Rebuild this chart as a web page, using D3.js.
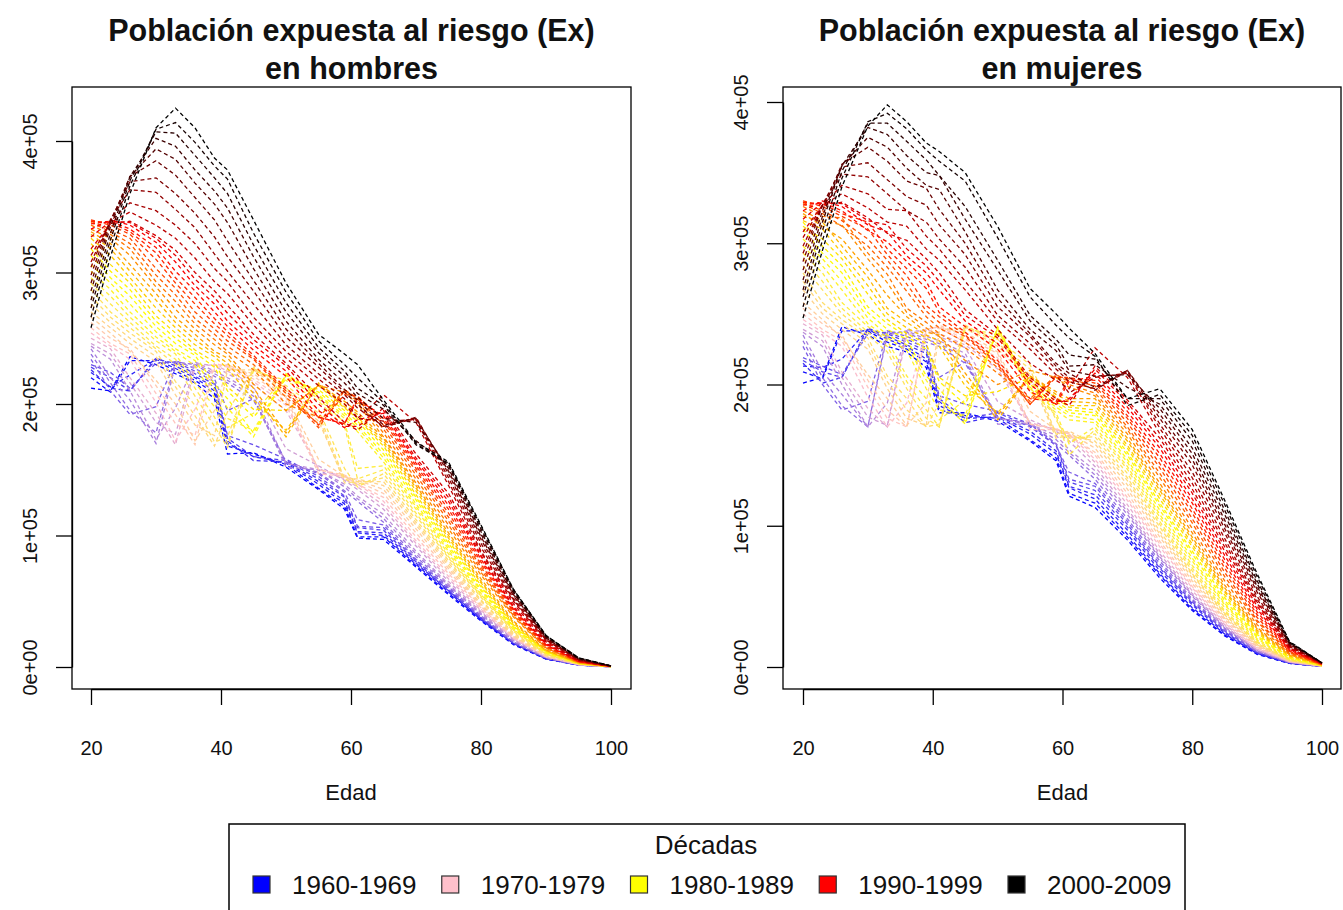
<!DOCTYPE html>
<html><head><meta charset="utf-8">
<script src="https://cdn.jsdelivr.net/npm/d3@7"></script>
<style>
body{margin:0;background:#fff;}
svg{display:block;font-family:"Liberation Sans",Arial,Helvetica,sans-serif;}
</style>
</head><body>
<svg id="chart" width="1343" height="910"></svg>
<script>
// Edades (eje x)
const ages = [20,23,26,30,33,36,39,41,45,50,55,59,61,65,70,75,80,85,90,95,100];
// Años (una curva por año)
const years = [1960,1961,1962,1963,1964,1965,1966,1967,1968,1969,
               1970,1971,1972,1973,1974,1975,1976,1977,1978,1979,
               1980,1981,1982,1983,1984,1985,1986,1987,1988,1989,
               1990,1991,1992,1993,1994,1995,1996,1997,1998,1999,
               2000,2001,2002,2003,2004,2005,2006,2007,2008,2009];
// Población expuesta (miles) – hombres, una fila por año
const hombres = [
[212,210,236,230,223,216,204,162,163,152,135,120,98,97,76,55,35,17,6,1.5,0.2],
[220,209,233,233,225,218,208,168,162,154,136,122,99,99,77,56,36,17.5,6.2,1.5,0.2],
[224,213,222,234,227,220,210,170,160,155,139,124,102,100,78,57,36,18,6.3,1.5,0.2],
[226,212,210,235,229,221,213,172,157,156,141,126,103,102,79,58,37,18,6.4,1.6,0.2],
[228,220,210,234,231,223,215,174,160,157,143,129,106,104,80,58,37,18,6.5,1.6,0.2],
[230,224,212,231,232,225,217,176,169,158,145,130,107,106,81,59,38,18.5,6.6,1.6,0.2],
[234,210,192,198,233,227,219,195,204,156,147,133,112,108,82,60,38,19,6.7,1.6,0.2],
[238,216,195,178,232,230,221,216,203,155,148,134,126,110,84,61,39,19,6.8,1.7,0.2],
[242,220,203,170,230,231,223,218,206,152,150,137,128,113,86,62,40,20,7,1.7,0.2],
[244,234,210,173,197,232,225,220,209,155,150,139,130,116,88,63,41,20.5,7.2,1.7,0.2],
[246,238,216,186,177,231,229,223,213,166,153,142,135,120,92,65,42,21,7.5,1.8,0.2],
[250,242,220,193,169,228,230,225,215,195,151,143,137,123,94,67,43,21.5,7.7,1.8,0.2],
[254,244,234,201,172,196,231,228,217,199,150,145,139,126,96,69,44,22,7.9,1.9,0.2],
[258,246,238,208,185,176,230,229,219,202,147,145,139,129,99,71,45,22.5,8.1,1.9,0.2],
[262,250,242,214,192,169,227,230,221,205,150,146,141,132,102,73,46,23,8.3,2,0.2],
[266,254,240,218,200,172,195,228,223,206,158,145,142,135,105,75,47,23.5,8.5,2,0.2],
[270,258,246,232,207,184,176,226,226,208,187,143,143,138,108,77,48,24,8.7,2.1,0.2],
[276,262,250,236,213,191,168,194,227,210,190,140,141,141,110,79,50,25,9,2.2,0.3],
[282,266,254,240,217,199,171,175,228,212,193,143,139,144,112,81,51,26,9.3,2.3,0.3],
[287,270,258,242,230,206,183,167,227,214,196,151,137,147,115,83,53,27,9.6,2.4,0.3],
[292,276,262,244,234,212,190,170,225,218,202,183,143,150,117,84,54,28,10,2.5,0.3],
[296,282,266,248,238,216,198,182,193,221,204,186,151,153,120,86,55,28.5,10.3,2.5,0.3],
[301,287,270,251,240,229,205,189,180,222,206,189,179,156,122,88,56,29,10.6,2.6,0.3],
[306,292,276,255,242,233,211,197,175,223,207,191,182,159,124,90,58,30,11,2.7,0.3],
[313,296,282,259,246,237,215,204,178,222,209,193,184,162,127,92,59,30.5,11.3,2.8,0.3],
[318,301,287,263,250,239,228,210,190,219,211,195,187,165,129,94,61,31,11.6,2.9,0.3],
[322,306,292,267,254,241,232,213,196,195,214,197,189,168,131,96,62,32,12,3,0.3],
[326,313,296,273,258,245,236,227,203,180,215,198,190,170,134,98,64,33,12.3,3,0.3],
[329,318,301,279,262,249,238,231,208,175,216,200,192,172,136,100,65,34,12.6,3.1,0.35],
[331,322,306,284,266,253,240,235,212,178,215,202,194,174,138,102,67,35,13,3.2,0.35],
[333,326,313,289,272,257,245,238,215,195,214,209,200,175,140,105,70,38,14,3.5,0.4],
[336,329,318,293,278,261,249,240,226,200,190,210,202,178,143,108,72,39,14.5,3.6,0.4],
[338,331,322,298,283,265,253,244,230,205,185,211,204,181,146,111,74,40,15,3.8,0.4],
[339,333,326,303,288,270,257,248,234,208,182,210,205,184,149,114,76,41,15.5,3.9,0.45],
[340,336,329,310,292,276,261,252,235,210,184,207,206,187,151,117,78,42,16,4,0.45],
[339,338,331,315,296,281,265,255,237,212,190,185,205,189,153,120,80,43,16.5,4.1,0.5],
[337,339,333,319,301,286,270,259,241,221,190,185,203,191,155,123,82,44,17,4.2,0.5],
[333,340,336,323,308,290,276,263,245,225,195,182,188,193,157,126,84,45,17.5,4.3,0.5],
[327,339,338,326,313,295,281,269,249,229,200,183,183,195,159,129,85,46,18,4.5,0.55],
[318,337,339,328,317,300,286,275,253,231,205,186,180,197,162,132,87,48,19,4.7,0.55],
[313,338,346,336,326,311,293,284,260,235,214,200,189,207,186,138,88,50,20,5,0.6],
[308,339,353,347,336,322,303,293,266,240,219,204,189,187,188,141,91,51,20.5,5.2,0.6],
[304,340,363,361,348,334,314,301,276,245,223,207,197,183,189,144,94,52,21,5.5,0.6],
[298,340,369,372,360,345,327,312,286,251,228,209,200,182,190,147,97,54,21.5,5.8,0.7],
[292,338,373,385,374,357,340,324,294,257,231,211,203,184,189,149,99,55,22,6,0.7],
[286,335,373,394,386,368,352,338,303,263,234,216,205,189,186,151,101,56,22.5,6.2,0.7],
[279,330,373,402,396,378,362,349,312,270,239,221,208,196,172,153,103,57,23,6.5,0.75],
[273,325,370,407,406,389,372,360,321,277,243,225,212,199,170,154,105,58,23.5,6.7,0.8],
[266,319,366,409,414,399,381,371,330,285,248,230,220,201,169,155,107,59,24,7,0.8],
[258,312,360,410,425,410,387,378,340,292,253,238,230,203,171,156,108,59,24,7,0.8]
];
// Población expuesta (miles) – mujeres, una fila por año
const mujeres = [
[201,205,241,235,227,223,212,180,180,174,160,146,121,113,90,63,40,22,9,2.5,0.4],
[209,204,238,238,230,225,216,182,178,176,161,148,123,116,92,65,41,22.7,9.3,2.6,0.42],
[213,212,218,239,232,227,218,185,176,177,165,151,127,119,94,66,42,23.4,9.6,2.7,0.44],
[215,201,205,240,234,228,222,188,173,178,167,153,128,122,97,68,44,24,9.9,2.8,0.46],
[217,209,205,239,236,230,224,190,176,180,170,157,131,125,99,70,45,24.8,10.2,2.9,0.48],
[219,213,207,236,237,232,226,192,186,181,172,158,133,128,101,71,46,25.5,10.5,3,0.5],
[227,200,182,188,238,234,228,205,216,177,171,157,138,130,103,73,47,26,10.8,3.1,0.52],
[231,205,185,170,237,237,230,227,215,176,173,158,150,133,105,75,48,27,11.1,3.2,0.54],
[235,209,193,170,235,238,232,229,219,172,172,161,152,136,108,77,50,27.6,11.4,3.3,0.56],
[237,227,200,170,187,239,234,231,222,176,172,164,154,139,110,78,51,28.3,11.7,3.4,0.58],
[239,231,205,177,171,238,238,234,226,188,175,167,160,142,112,80,52,29,12,3.5,0.6],
[243,235,209,183,170,235,239,236,228,211,173,168,163,145,115,82,54,30,12.6,3.7,0.63],
[246,237,227,191,170,187,240,240,230,215,172,168,165,147,118,85,56,31,13.2,3.8,0.66],
[250,239,231,198,176,170,239,241,232,219,168,168,165,150,120,87,57,32,13.8,4,0.69],
[254,243,235,203,182,170,236,242,234,222,172,169,164,152,123,89,59,33.5,14.4,4.1,0.72],
[258,246,233,207,190,171,187,240,237,223,181,168,166,155,126,92,61,34.5,15,4.3,0.75],
[267,250,239,225,197,176,171,238,240,225,204,165,167,158,129,94,63,35.5,15.6,4.4,0.78],
[273,254,243,229,202,182,170,187,241,227,207,162,164,160,132,96,65,37,16.2,4.6,0.81],
[279,258,246,233,206,190,170,172,242,229,211,165,162,163,134,99,66,38,16.8,4.7,0.84],
[284,267,250,235,223,197,176,170,241,232,214,175,160,165,137,101,68,39,17.4,4.9,0.87],
[289,273,254,237,227,202,182,170,239,236,196,178,150,168,140,103,70,40,18,5,0.9],
[293,279,258,241,231,206,190,175,189,239,195,180,158,170,142,106,72,42,19,5.4,0.96],
[298,284,267,243,233,224,197,182,178,240,197,182,175,173,145,108,75,44,20,5.8,1.0],
[303,289,273,247,235,228,203,190,172,241,198,184,178,175,147,111,77,45,21,6.2,1.1],
[310,293,279,251,239,232,206,197,174,240,200,186,180,178,150,114,80,47,22,6.6,1.15],
[315,298,284,255,243,234,225,202,186,237,202,188,182,180,152,116,82,49,23,7,1.2],
[312,303,289,264,246,236,229,205,192,195,205,190,184,182,155,119,85,51,24,7.4,1.25],
[316,310,293,270,250,240,233,227,199,180,206,191,185,185,157,122,87,53,25,7.8,1.3],
[319,315,298,276,254,244,235,231,204,175,206,193,188,187,160,125,90,54,26,8.2,1.4],
[321,312,303,281,263,248,237,235,208,178,206,195,190,190,162,127,92,56,27,8.6,1.45],
[323,316,313,289,272,251,240,234,217,200,210,205,198,192,165,130,95,58,28,9,1.5],
[326,319,318,293,278,254,244,236,226,208,190,206,200,194,168,134,98,61,30,9.5,1.6],
[328,321,312,298,283,266,248,240,230,212,188,207,202,197,170,137,102,64,32,10,1.7],
[329,323,316,303,288,271,252,244,234,214,186,206,204,199,173,141,105,67,33,10.5,1.8],
[330,326,319,310,292,277,256,248,235,215,186,205,205,201,176,144,109,70,35,11,1.9],
[329,328,321,315,296,282,268,251,237,217,190,188,204,203,178,148,112,73,37,11.5,2.0],
[327,329,323,309,301,287,273,255,241,225,195,186,202,206,181,151,116,76,39,12,2.1],
[323,330,326,313,308,291,279,267,245,229,200,186,190,208,184,155,119,79,41,12.5,2.2],
[317,329,328,316,313,296,284,273,249,233,203,188,188,211,187,158,123,82,43,13,2.3],
[308,327,329,318,307,302,289,279,253,235,205,190,185,213,189,162,126,85,45,13.5,2.4],
[304,327,335,325,315,312,296,288,267,239,215,203,197,226,205,165,130,88,46,14,2.5],
[298,327,341,335,324,323,305,296,273,245,225,207,194,205,208,169,134,91,48,14.5,2.55],
[293,327,349,347,335,323,315,303,283,249,229,211,202,197,209,172,138,95,50,15,2.6],
[287,327,354,357,345,333,327,313,292,255,234,213,205,196,210,176,143,98,53,15.5,2.65],
[281,323,356,368,358,344,339,324,300,261,236,215,208,198,210,179,147,101,55,16,2.7],
[274,319,355,375,368,353,341,338,308,267,239,224,210,206,207,183,151,104,57,16.5,2.75],
[267,315,355,382,377,362,350,348,317,281,245,228,213,214,198,186,155,108,59,17,2.8],
[262,309,351,385,385,372,359,348,326,288,249,232,221,218,190,190,160,111,61,17.2,2.85],
[255,302,346,386,392,381,366,358,344,304,262,242,233,220,185,193,164,115,64,17.6,2.9],
[247,295,340,383,398,386,371,365,350,312,268,250,240,222,190,197,168,118,66,18,3]
];
// Leyenda
const decadas = ["1960-1969","1970-1979","1980-1989","1990-1999","2000-2009"];
const decadeColors = ["blue","pink","yellow","red","black"];
// Ejes
const xTicks = [20,40,60,80,100];
const yTicks = [0,100,200,300,400];            // miles
const yTickLabels = ["0e+00","1e+05","2e+05","3e+05","4e+05"];
const titles = [["Población expuesta al riesgo (Ex)","en hombres"],
                ["Población expuesta al riesgo (Ex)","en mujeres"]];

const svg = d3.select("#chart");
svg.append("rect").attr("width",1343).attr("height",910).attr("fill","#fff");

const ramp = d3.piecewise(d3.interpolateRgb, decadeColors);
const colorOf = i => ramp(i / (years.length - 1));

const panels = [
  {data: hombres, title: titles[0], box:[72,87,631,689], xr:[91,611], yr:[667,141]},
  {data: mujeres, title: titles[1], box:[783,87,1341,689], xr:[803,1322], yr:[667,102]}
];

panels.forEach(p => {
  const x = d3.scaleLinear().domain([20,100]).range(p.xr);
  const y = d3.scaleLinear().domain([0,400]).range(p.yr);
  const g = svg.append("g");
  const line = d3.line().x((d,i)=>x(ages[i])).y(d=>y(d));

  g.selectAll("path.serie").data(p.data).join("path")
    .attr("class","serie")
    .attr("d", line)
    .attr("fill","none")
    .attr("stroke",(d,i)=>colorOf(i))
    .attr("stroke-width",1.3)
    .attr("stroke-dasharray","4,3");

  const [bx0,by0,bx1,by1] = p.box;
  g.append("rect").attr("x",bx0).attr("y",by0).attr("width",bx1-bx0).attr("height",by1-by0)
    .attr("fill","none").attr("stroke","#000").attr("stroke-width",1.3);

  const ax = g.append("g").attr("transform",`translate(0,${by1})`)
    .call(d3.axisBottom(x).tickValues(xTicks).tickSize(16).tickSizeOuter(0).tickFormat(d3.format("d")));
  ax.select(".domain").attr("stroke","#000").attr("stroke-width",1.3);
  ax.selectAll(".tick line").attr("stroke","#000").attr("stroke-width",1.3);
  ax.selectAll(".tick text").attr("y",66).attr("dy",null)
    .attr("font-size",20).attr("fill","#111").attr("font-family","Liberation Sans, Arial, sans-serif");

  const ay = g.append("g").attr("transform",`translate(${bx0},0)`)
    .call(d3.axisLeft(y).tickValues(yTicks).tickSize(16).tickSizeOuter(0).tickFormat((d,i)=>yTickLabels[i]));
  ay.select(".domain").attr("stroke","#000").attr("stroke-width",1.3);
  ay.selectAll(".tick line").attr("stroke","#000").attr("stroke-width",1.3);
  ay.selectAll(".tick text").attr("x",null).attr("dy",null)
    .attr("text-anchor","middle").attr("transform","translate(-35,0) rotate(-90)")
    .attr("font-size",20).attr("fill","#111").attr("font-family","Liberation Sans, Arial, sans-serif");

  const cx = (bx0+bx1)/2;
  g.append("text").attr("x",cx).attr("y",41).attr("text-anchor","middle")
    .attr("font-size",30.5).attr("font-weight","bold").attr("fill","#111").text(p.title[0]);
  g.append("text").attr("x",cx).attr("y",79).attr("text-anchor","middle")
    .attr("font-size",30.5).attr("font-weight","bold").attr("fill","#111").text(p.title[1]);
  g.append("text").attr("x",x(60)).attr("y",800).attr("text-anchor","middle")
    .attr("font-size",22).attr("fill","#111").text("Edad");
});

const lg = svg.append("g");
lg.append("rect").attr("x",229).attr("y",824).attr("width",956).attr("height",110)
  .attr("fill","#fff").attr("stroke","#000").attr("stroke-width",1.5);
lg.append("text").attr("x",706).attr("y",854).attr("text-anchor","middle")
  .attr("font-size",26).attr("fill","#111").text("Décadas");
const itemX = d3.scalePoint().domain(decadas).range([253,1008]);
const items = lg.selectAll("g.item").data(decadas).join("g").attr("class","item")
  .attr("transform",d=>`translate(${itemX(d)},0)`);
items.append("rect").attr("x",0).attr("y",876).attr("width",17).attr("height",17)
  .attr("fill",(d,i)=>decadeColors[i]).attr("stroke","#333").attr("stroke-width",1.2);
items.append("text").attr("x",39).attr("y",894).attr("font-size",26).attr("fill","#111").text(d=>d);
</script>
</body></html>
